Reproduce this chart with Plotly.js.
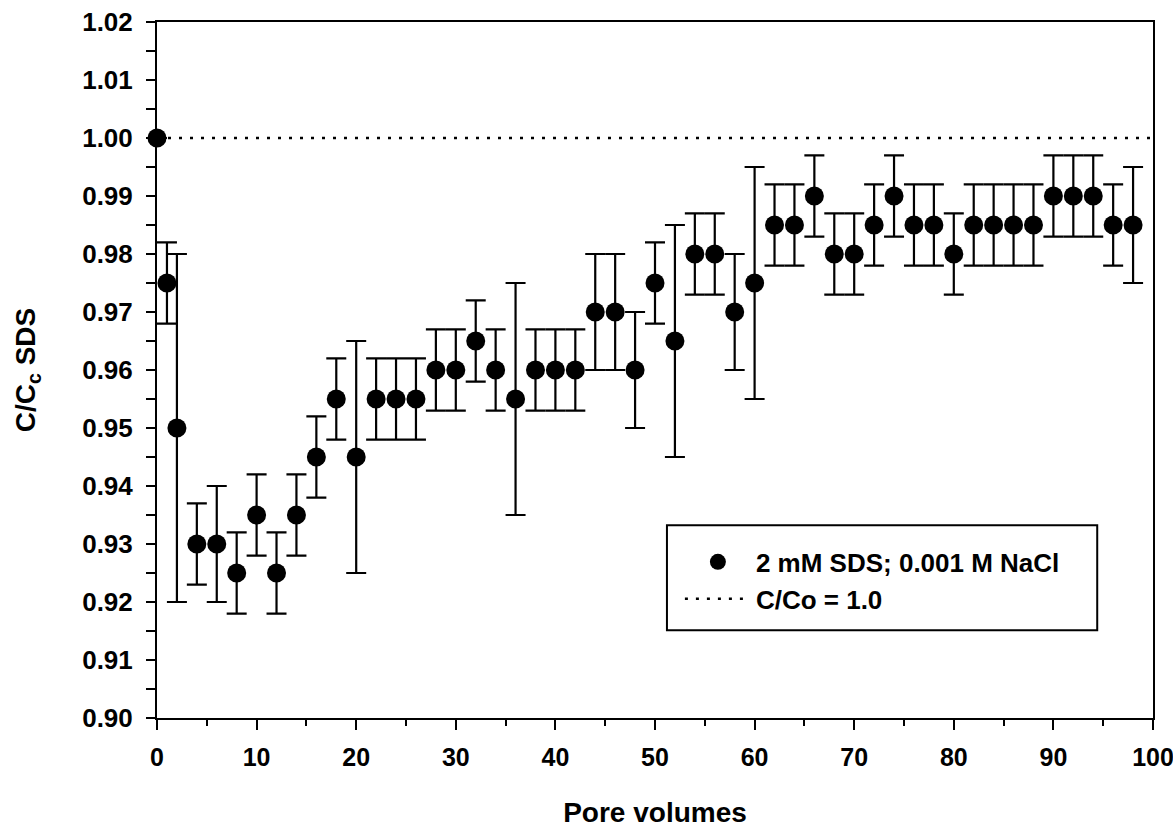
<!DOCTYPE html>
<html>
<head>
<meta charset="utf-8">
<script src="https://cdn.plot.ly/plotly-3.0.1.min.js"></script>
<style>html,body{margin:0;padding:0;background:#fff;}#chart{width:1173px;height:828px;}</style>
</head>
<body>
<div id="chart"></div>
<script>
// Data
var poreVolumes = [0, 1, 2, 4, 6, 8, 10, 12, 14, 16, 18, 20, 22, 24, 26, 28, 30, 32, 34, 36, 38, 40, 42, 44, 46, 48, 50, 52, 54, 56, 58, 60, 62, 64, 66, 68, 70, 72, 74, 76, 78, 80, 82, 84, 86, 88, 90, 92, 94, 96, 98];
var cOverC0 = [1.000, 0.975, 0.950, 0.930, 0.930, 0.925, 0.935, 0.925, 0.935, 0.945, 0.955, 0.945, 0.955, 0.955, 0.955, 0.960, 0.960, 0.965, 0.960, 0.955, 0.960, 0.960, 0.960, 0.970, 0.970, 0.960, 0.975, 0.965, 0.980, 0.980, 0.970, 0.975, 0.985, 0.985, 0.990, 0.980, 0.980, 0.985, 0.990, 0.985, 0.985, 0.980, 0.985, 0.985, 0.985, 0.985, 0.990, 0.990, 0.990, 0.985, 0.985];
var errors = [0, 0.007, 0.030, 0.007, 0.010, 0.007, 0.007, 0.007, 0.007, 0.007, 0.007, 0.020, 0.007, 0.007, 0.007, 0.007, 0.007, 0.007, 0.007, 0.020, 0.007, 0.007, 0.007, 0.010, 0.010, 0.010, 0.007, 0.020, 0.007, 0.007, 0.010, 0.020, 0.007, 0.007, 0.007, 0.007, 0.007, 0.007, 0.007, 0.007, 0.007, 0.007, 0.007, 0.007, 0.007, 0.007, 0.007, 0.007, 0.007, 0.007, 0.010];
var refLineX = [0, 100];
var refLineY = [1.0, 1.0];
var seriesName = '2 mM SDS; 0.001 M NaCl';
var refName = 'C/Co = 1.0';

var FONT = 'Liberation Sans, Arial, Helvetica, sans-serif';

var traces = [
  {
    x: poreVolumes, y: cOverC0, type: 'scatter', mode: 'markers', name: seriesName,
    cliponaxis: false,
    marker: {symbol: 'circle', size: 19, color: '#000'},
    error_y: {type: 'data', array: errors, visible: true, color: '#000', thickness: 2.2, width: 10}
  },
  {
    x: refLineX, y: refLineY, type: 'scatter', mode: 'lines', name: refName,
    cliponaxis: false,
    line: {color: '#000', width: 2.5, dash: '3px,8px'}
  }
];

var layout = {
  width: 1173, height: 828,
  margin: {l: 157, r: 20, t: 22, b: 110},
  paper_bgcolor: '#fff', plot_bgcolor: '#fff',
  showlegend: true,
  font: {family: FONT, size: 26, color: '#000', weight: 'bold'},
  xaxis: {
    range: [0, 100], dtick: 10, tick0: 0,
    ticks: 'outside', ticklen: 10, tickwidth: 2, tickcolor: '#000',
    minor: {dtick: 5, ticks: 'outside', ticklen: 6, tickwidth: 2, tickcolor: '#000'},
    showline: true, linewidth: 2, linecolor: '#000', mirror: true,
    showgrid: false, zeroline: false, ticklabeloverflow: 'allow', ticklabelstandoff: 6,
    tickfont: {family: FONT, size: 25, weight: 'bold'},
    title: {text: 'Pore volumes', font: {family: FONT, size: 28, weight: 'bold'}, standoff: 34}
  },
  yaxis: {
    range: [0.90, 1.02], dtick: 0.01, tick0: 0.90, tickformat: '.2f',
    ticks: 'outside', ticklen: 9, tickwidth: 2, tickcolor: '#000',
    minor: {dtick: 0.005, ticks: 'outside', ticklen: 9, tickwidth: 2, tickcolor: '#000'},
    showline: true, linewidth: 2, linecolor: '#000', mirror: true,
    showgrid: false, zeroline: false, ticklabeloverflow: 'allow', ticklabelstandoff: 8,
    tickfont: {family: FONT, size: 26, weight: 'bold'},
    title: {text: 'C/C<sub>c</sub> SDS', font: {family: FONT, size: 28, weight: 'bold'}, standoff: 38}
  },
  legend: {
    x: 0.525, y: 0.258, xanchor: 'left', yanchor: 'top',
    bgcolor: 'rgba(0,0,0,0)', borderwidth: 0,
    font: {family: FONT, size: 26, weight: 'bold'},
    itemwidth: 66, tracegroupgap: 0
  },
  shapes: [
    {type: 'rect', xref: 'paper', yref: 'paper', x0: 0.512, x1: 0.944, y0: 0.126, y1: 0.277,
     line: {color: '#000', width: 2}, fillcolor: 'rgba(0,0,0,0)', layer: 'above'}
  ]
};

Plotly.newPlot('chart', traces, layout, {displayModeBar: false, staticPlot: true});
</script>
</body>
</html>
